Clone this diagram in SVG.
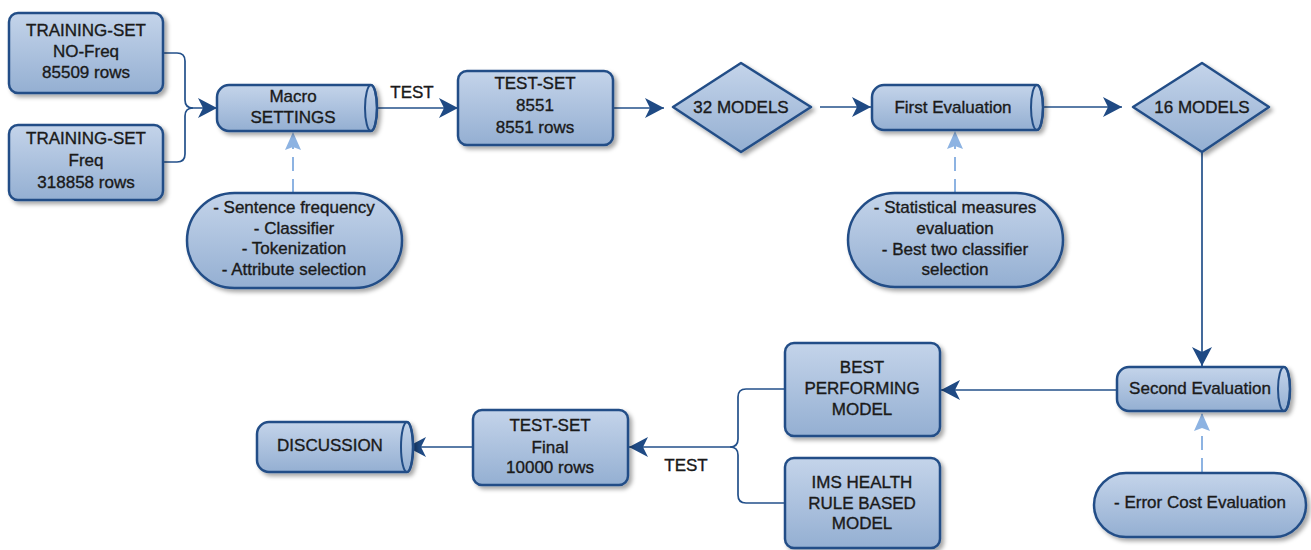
<svg xmlns="http://www.w3.org/2000/svg" width="1311" height="550" viewBox="0 0 1311 550">
<defs>
<linearGradient id="g" x1="0" y1="0" x2="0" y2="1">
<stop offset="0" stop-color="#c4d4ea"/>
<stop offset="1" stop-color="#94afd2"/>
</linearGradient>
<filter id="sh" x="-10%" y="-10%" width="125%" height="130%">
<feDropShadow dx="3" dy="3" stdDeviation="2" flood-color="#000" flood-opacity="0.35"/>
</filter>
<marker id="ah" markerUnits="userSpaceOnUse" markerWidth="20" markerHeight="20" refX="19" refY="10" orient="auto">
<path d="M0,0 L19,10 L0,20 L5,10 Z" fill="#1f4a84"/>
</marker>
<marker id="ahl" markerUnits="userSpaceOnUse" markerWidth="20" markerHeight="18" refX="18" refY="9" orient="auto">
<path d="M0,1 L18,9 L0,17 L3,9 Z" fill="#8db3e2"/>
</marker>
</defs>
<style>
.n{fill:url(#g);stroke:#234e87;stroke-width:2.5;filter:url(#sh)}
.cap{fill:none;stroke:#234e87;stroke-width:2}
.t{font-family:"Liberation Sans",Arial,sans-serif;font-size:17px;fill:#1a1a1a;stroke:#1a1a1a;stroke-width:0.35;text-anchor:middle}
.c{fill:none;stroke:#23508a;stroke-width:1.7}
.d{fill:none;stroke:#8db3e2;stroke-width:2;stroke-dasharray:14 8}
</style>

<g id="connectors">
<path class="c" d="M163,53 H177 Q185,53 185,61 V100 Q185,108 193,108 H217" marker-end="url(#ah)"/>
<path class="c" d="M163,162 H177 Q185,162 185,154 V116 Q185,108 193,108"/>
<path class="c" d="M371,108 H458" marker-end="url(#ah)"/>
<path class="c" d="M613,108 H664" marker-end="url(#ah)"/>
<path class="c" d="M820,107 H871" marker-end="url(#ah)"/>
<path class="c" d="M1037,107 H1122" marker-end="url(#ah)"/>
<path class="c" d="M1202,153 V366" marker-end="url(#ah)"/>
<path class="c" d="M1118,390 H941" marker-end="url(#ah)"/>
<path class="c" d="M785,389 H746 Q738,389 738,397 V439 Q738,447 730,447 H629" marker-end="url(#ah)"/>
<path class="c" d="M785,503 H746 Q738,503 738,495 V455 Q738,447 730,447"/>
<path class="c" d="M473,447 H407" marker-end="url(#ah)"/>
<path class="d" d="M293,193 V132" marker-end="url(#ahl)"/>
<path class="d" d="M955,193 V131" marker-end="url(#ahl)"/>
<path class="d" d="M1202,472 V413" marker-end="url(#ahl)"/>
<text class="t" x="412" y="98">TEST</text>
<text class="t" x="686" y="471">TEST</text>
</g>

<g id="training-nofreq">
<rect class="n" x="9" y="13" width="154" height="80" rx="9"/>
<text class="t" x="86" y="36">TRAINING-SET</text>
<text class="t" x="86" y="57">NO-Freq</text>
<text class="t" x="86" y="78">85509 rows</text>
</g>

<g id="training-freq">
<rect class="n" x="9" y="125" width="154" height="75" rx="9"/>
<text class="t" x="86" y="144">TRAINING-SET</text>
<text class="t" x="86" y="166">Freq</text>
<text class="t" x="86" y="188">318858 rows</text>
</g>

<g id="macro-settings">
<path class="n" d="M229,85 H371 A6,23 0 0 1 371,131 H229 A12,12 0 0 1 217,119 V97 A12,12 0 0 1 229,85 Z"/>
<ellipse class="cap" cx="371" cy="108" rx="6" ry="23"/>
<text class="t" x="293" y="102">Macro</text>
<text class="t" x="293" y="123">SETTINGS</text>
</g>

<g id="macro-params">
<rect class="n" x="187" y="193" width="215" height="95" rx="47.5"/>
<text class="t" x="294" y="213">- Sentence frequency</text>
<text class="t" x="294" y="234">- Classifier</text>
<text class="t" x="294" y="254">- Tokenization</text>
<text class="t" x="294" y="275">- Attribute selection</text>
</g>

<g id="test-set-8551">
<rect class="n" x="458" y="71" width="155" height="74" rx="9"/>
<text class="t" x="535" y="89">TEST-SET</text>
<text class="t" x="535" y="111">8551</text>
<text class="t" x="535" y="133">8551 rows</text>
</g>

<g id="models-32">
<path class="n" d="M741,63 L811,107 L741,152 L673,107 Z" stroke-linejoin="round"/>
<text class="t" x="741" y="113">32 MODELS</text>
</g>

<g id="first-evaluation">
<path class="n" d="M884,85 H1037 A6,22.5 0 0 1 1037,130 H884 A12,12 0 0 1 872,118 V97 A12,12 0 0 1 884,85 Z"/>
<ellipse class="cap" cx="1037" cy="107.5" rx="6" ry="22.5"/>
<text class="t" x="953" y="113">First Evaluation</text>
</g>

<g id="first-eval-params">
<rect class="n" x="848" y="193" width="215" height="94" rx="47"/>
<text class="t" x="955" y="213">- Statistical measures</text>
<text class="t" x="955" y="234">evaluation</text>
<text class="t" x="955" y="255">- Best two classifier</text>
<text class="t" x="955" y="275">selection</text>
</g>

<g id="models-16">
<path class="n" d="M1202,63 L1269,107 L1202,152 L1133,107 Z" stroke-linejoin="round"/>
<text class="t" x="1202" y="113">16 MODELS</text>
</g>

<g id="second-evaluation">
<path class="n" d="M1129,367 H1284 A6,22 0 0 1 1284,411 H1129 A12,12 0 0 1 1117,399 V379 A12,12 0 0 1 1129,367 Z"/>
<ellipse class="cap" cx="1284" cy="389" rx="6" ry="22"/>
<text class="t" x="1200" y="394">Second Evaluation</text>
</g>

<g id="error-cost">
<rect class="n" x="1094" y="473" width="212" height="64" rx="32"/>
<text class="t" x="1200" y="508">- Error Cost Evaluation</text>
</g>

<g id="best-performing">
<rect class="n" x="785" y="343" width="155" height="93" rx="9"/>
<text class="t" x="862" y="373">BEST</text>
<text class="t" x="862" y="394">PERFORMING</text>
<text class="t" x="862" y="415">MODEL</text>
</g>

<g id="ims-health">
<rect class="n" x="785" y="458" width="155" height="90" rx="9"/>
<text class="t" x="862" y="488">IMS HEALTH</text>
<text class="t" x="862" y="509">RULE BASED</text>
<text class="t" x="862" y="529">MODEL</text>
</g>

<g id="test-set-final">
<rect class="n" x="473" y="410" width="155" height="75" rx="9"/>
<text class="t" x="550" y="431">TEST-SET</text>
<text class="t" x="550" y="453">Final</text>
<text class="t" x="550" y="473">10000 rows</text>
</g>

<g id="discussion">
<path class="n" d="M269,422 H407 A6,25 0 0 1 407,472 H269 A12,12 0 0 1 257,460 V434 A12,12 0 0 1 269,422 Z"/>
<ellipse class="cap" cx="407" cy="447" rx="6" ry="25"/>
<text class="t" x="330" y="451">DISCUSSION</text>
</g>
</svg>
